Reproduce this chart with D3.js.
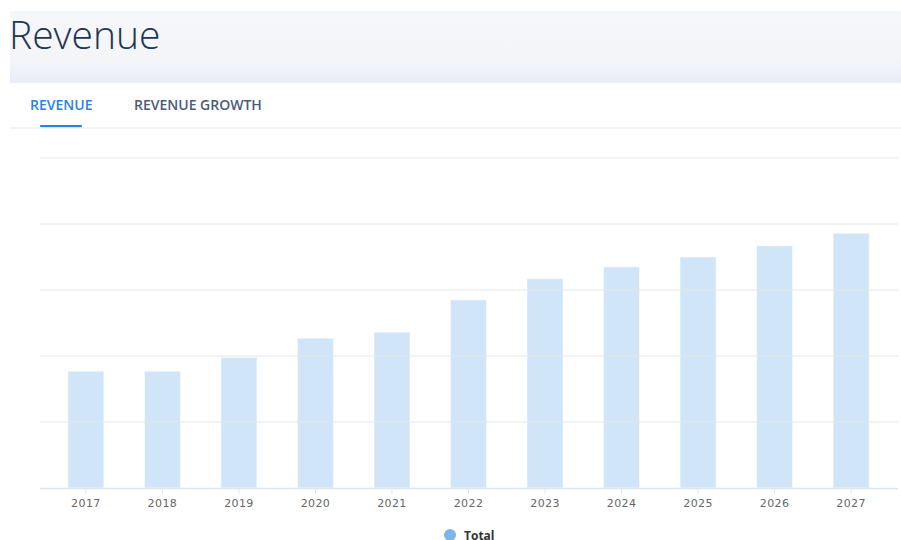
<!DOCTYPE html>
<html>
<head>
<meta charset="utf-8">
<script src="https://cdn.jsdelivr.net/npm/d3@7"></script>
<style>
  body { margin: 0; background: #fff; font-family: "Open Sans", "Noto Sans", sans-serif; }
  svg { display: block; }
</style>
</head>
<body>
<svg id="chart" width="901" height="540"></svg>
<script>
// values (no y labels shown, arbitrary units)
let years = ['2017', '2018', '2019', '2020', '2021', '2022', '2023', '2024', '2025', '2026', '2027']
let totals = [1.77, 1.77, 1.98, 2.27, 2.36, 2.85, 3.17, 3.35, 3.5, 3.67, 3.86]
let gridTicks = [0, 1, 2, 3, 4, 5]
let tabs = ['REVENUE', 'REVENUE GROWTH']
let seriesName = 'Total'

let svg = d3.select('#chart')

// header panel
let defs = svg.append('defs')
let grad = defs.append('linearGradient')
  .attr('id', 'hdr')
  .attr('x1', 0).attr('y1', 0).attr('x2', 0).attr('y2', 1)
grad.append('stop').attr('offset', '0%').attr('stop-color', '#f6f7fb')
grad.append('stop').attr('offset', '70%').attr('stop-color', '#f3f5f9')
grad.append('stop').attr('offset', '100%').attr('stop-color', '#e9edf4')

svg.append('rect')
  .attr('x', 10).attr('y', 11)
  .attr('width', 891).attr('height', 72)
  .attr('fill', 'url(#hdr)')

svg.append('text')
  .attr('x', 9).attr('y', 49)
  .attr('font-size', 39)
  .attr('font-weight', 300)
  .attr('fill', '#233553')
  .text('Revenue')

// tabs
let tabX = [30, 134]
svg.selectAll('.tab')
  .data(tabs)
  .enter()
  .append('text')
  .attr('class', 'tab')
  .attr('x', (d, i) => tabX[i])
  .attr('y', 110)
  .attr('font-size', 14)
  .attr('font-weight', 600)
  .attr('fill', (d, i) => i === 0 ? '#2d7fe3' : '#4b5b77')
  .text(d => d)

svg.append('rect')
  .attr('x', 40).attr('y', 125)
  .attr('width', 42).attr('height', 2.5)
  .attr('rx', 1)
  .attr('fill', '#2d7fe3')

svg.append('line')
  .attr('x1', 10).attr('x2', 901)
  .attr('y1', 128).attr('y2', 128)
  .attr('stroke', '#f0f2f6')
  .attr('stroke-width', 1.5)

// chart
let plot = { left: 40, right: 898, top: 158, bottom: 488 }

let x = d3.scaleBand()
  .domain(years)
  .range([48, 889])
  .paddingInner(0.53)
  .paddingOuter(0.26)

let y = d3.scaleLinear()
  .domain([0, 5])
  .range([plot.bottom, plot.top])

let g = svg.append('g')

g.selectAll('.bar')
  .data(totals)
  .enter()
  .append('rect')
  .attr('class', 'bar')
  .attr('x', (d, i) => x(years[i]))
  .attr('y', d => y(d))
  .attr('width', x.bandwidth())
  .attr('height', d => y(0) - y(d))
  .attr('fill', 'rgba(124,181,236,0.35)')
  .attr('stroke', 'rgba(255,255,255,0.5)')
  .attr('stroke-width', 1)

// grid lines over translucent bars
g.selectAll('.grid')
  .data(gridTicks.slice(1))
  .enter()
  .append('line')
  .attr('class', 'grid')
  .attr('x1', plot.left).attr('x2', plot.right)
  .attr('y1', d => y(d)).attr('y2', d => y(d))
  .attr('stroke', '#e6e6e6')
  .attr('stroke-width', 1)

let xAxis = g.append('g')
  .attr('transform', `translate(0,${plot.bottom})`)
  .call(d3.axisBottom(x).tickSizeOuter(0).tickSize(6).tickPadding(5))

xAxis.select('.domain')
  .attr('d', `M${plot.left},0.5H${plot.right}`)
  .attr('stroke', '#dfe5f0')
  .attr('stroke-width', 1.5)
xAxis.selectAll('.tick line').attr('stroke', '#dfe5f0')
xAxis.selectAll('.tick text')
  .attr('fill', '#666')
  .attr('font-size', 11)
  .attr('font-family', '"DejaVu Sans", sans-serif')
  .attr('letter-spacing', 0.4)

// legend (cut at the bottom edge, as in the reference)
let legend = svg.append('g').attr('transform', 'translate(450,535)')
legend.append('circle')
  .attr('r', 6)
  .attr('fill', '#7cb5ec')
legend.append('text')
  .attr('x', 14).attr('y', 4.5)
  .attr('font-size', 12)
  .attr('font-weight', 700)
  .attr('fill', '#333')
  .text(seriesName)
</script>
</body>
</html>
